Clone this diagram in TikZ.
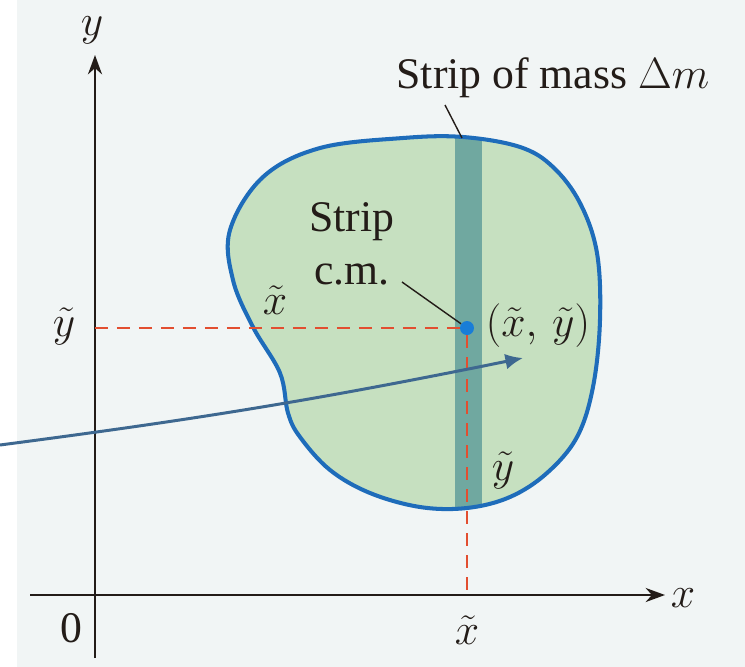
\documentclass[tikz,border=0pt]{standalone}
\usepackage{fontspec}
\setmainfont{Liberation Serif}
\usetikzlibrary{arrows,arrows.meta,positioning,calc}
\definecolor{paper}{RGB}{241,245,245}
\definecolor{regionfill}{RGB}{198,224,192}
\definecolor{stripfill}{RGB}{112,168,160}
\definecolor{outline}{RGB}{30,108,186}
\definecolor{dotblue}{RGB}{25,125,215}
\definecolor{pointer}{RGB}{62,104,144}
\definecolor{guide}{RGB}{226,78,48}
\definecolor{ink}{RGB}{35,28,24}

\begin{document}
\begin{tikzpicture}[
  x=0.02cm, y=-0.02cm,
  every node/.style={font=\Huge, text=ink},
  axis/.style={line width=1.4pt, draw=ink, -{Stealth[length=11pt,width=8pt]}},
  guideline/.style={line width=1.1pt, draw=guide, dash pattern=on 0.26cm off 0.18cm},
  leader/.style={line width=0.8pt, draw=ink},
  pointerarrow/.style={line width=1.7pt, draw=pointer, -{Latex[length=10pt,width=9pt]}}
]

% Background
\fill[paper] (0,0) rectangle (745,667);
\fill[white] (0,0) rectangle (17,667);
\useasboundingbox (0,0) rectangle (745,667);

% The region and its strip
\def\regionpath{plot[smooth cycle, tension=0.6] coordinates {
  (463,137) (520,147) (553,167) (580,203) (597,253) (600,320) (593,387)
  (577,437) (547,473) (510,497) (467,508) (420,507) (370,493) (330,470)
  (300,437) (288,413) (280,373) (253,327) (233,280) (230,230) (263,177)
  (320,148) (403,138)}}
\fill[regionfill] \regionpath;
\begin{scope}
  \clip \regionpath;
  \fill[stripfill] (455,110) rectangle (482,530);
\end{scope}
\draw[outline, line width=2.3pt] \regionpath;

% Axes
\coordinate (xstart) at (30,595);
\coordinate (xend) at (665,595);
\coordinate (ystart) at (95,658);
\coordinate (yend) at (95,55);
\draw[axis] (xstart) -- (xend);
\draw[axis] (ystart) -- (yend);
\node (ylab) at (92,30) {$y$};
\node (xlab) at (683,598) {$x$};
\node (origin) at (71,628) {0};

% Centre of mass and guide lines
\node[circle, fill=dotblue, inner sep=0pt, minimum size=0.28cm] (cm) at (467,328) {};
\coordinate (ytick) at (95,328);
\coordinate (xtick) at (467,595);
\draw[guideline] (ytick) -- (cm);
\draw[guideline] (cm) -- (xtick);

% Labels
\node (ytilde) at (64,326) {$\tilde{y}$};
\node (xtildein) at (275,300) {$\tilde{x}$};
\node (cmcoord) at (538,326) {$(\tilde{x},\,\tilde{y})$};
\node (ytildestrip) at (503,470) {$\tilde{y}$};
\node (xtildeaxis) at (467,630) {$\tilde{x}$};
\node[align=center] (cmlabel) at (352,244) {Strip\\c.m.};
\node (masslabel) at (553,78) {Strip of mass $\Delta m$};

% Leader lines
\coordinate (cmtail) at (402,282);
\coordinate (masstail) at (445,105);
\coordinate (striptop) at (462,138);
\draw[leader] (cmtail) -- (cm);
\draw[leader] (masstail) -- (striptop);

% Pointer arrow
\coordinate (arrowstart) at (0,445);
\coordinate (arrowend) at (523,358);
\draw[pointerarrow] (arrowstart) to[bend right=2] (arrowend);

\end{tikzpicture}
\end{document}
